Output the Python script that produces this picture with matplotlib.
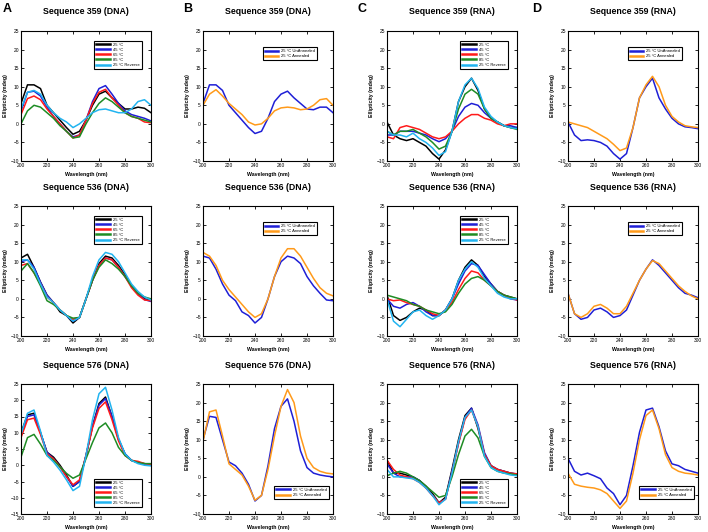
import matplotlib
matplotlib.use("Agg")
import matplotlib.pyplot as plt
import numpy as np

plt.rcParams['font.family'] = ['Liberation Sans', 'DejaVu Sans']

# wavelength grid (nm), every 5 nm
wl = np.arange(200, 301, 5)

temp_labels = ['25 \u00b0C', '45 \u00b0C', '65 \u00b0C', '85 \u00b0C', '25 \u00b0C Reverse']
anneal_labels = ['25 \u00b0C UnAnnealed', '25 \u00b0C Annealed']

# --- Sequence 359 ---
dna359_temp = [
    [5.5, 10.5, 10.5, 9.5, 5.0, 3.0, 1.0, -1.0, -2.8, -2.0, 1.0, 5.0, 8.0, 8.8, 7.0, 5.5, 4.0, 4.0, 4.5, 4.2, 3.0],
    [3.5, 8.5, 8.8, 7.5, 4.5, 2.0, 0.0, -2.0, -3.5, -3.0, 1.0, 6.0, 9.5, 10.3, 8.0, 5.5, 3.5, 2.5, 2.0, 1.5, 0.8],
    [2.5, 6.8, 7.5, 6.5, 4.0, 2.0, 0.0, -2.0, -3.8, -3.0, 1.0, 5.5, 8.5, 9.3, 7.0, 5.0, 3.0, 2.0, 1.5, 0.5, 0.3],
    [0.0, 3.5, 5.0, 4.5, 3.0, 1.5, -0.5, -2.0, -3.8, -3.5, 0.0, 3.0, 5.5, 7.0, 6.0, 4.5, 3.0, 2.0, 1.5, 1.0, 0.5],
    [4.0, 8.5, 9.0, 8.0, 5.0, 3.0, 1.5, 0.5, -1.0, 0.0, 1.5, 3.0, 3.8, 4.0, 3.5, 3.0, 3.0, 4.0, 6.0, 6.5, 5.0],
]
dna359_anneal = [
    [5.5, 10.5, 10.5, 9.0, 5.0, 3.0, 1.0, -1.0, -2.6, -2.0, 1.5, 6.0, 8.0, 8.8, 7.0, 5.5, 4.0, 3.8, 4.5, 4.5, 3.0],
    [5.0, 8.0, 9.2, 7.5, 5.5, 4.0, 2.5, 0.5, -0.3, 0.0, 1.5, 3.5, 4.3, 4.5, 4.3, 3.8, 4.0, 5.0, 6.5, 6.8, 5.0],
]
rna359_temp = [
    [0.5, -3.0, -4.0, -4.5, -4.0, -5.0, -6.0, -8.0, -9.5, -7.0, -2.0, 6.0, 10.0, 12.3, 9.0, 4.0, 1.5, 0.5, -0.5, -1.0, -1.0],
    [-3.0, -3.0, -2.0, -2.0, -2.0, -2.5, -3.0, -4.0, -4.8, -4.0, -2.0, 2.0, 4.5, 5.5, 5.0, 3.0, 1.5, 0.5, -0.5, -0.5, -1.0],
    [-3.5, -4.0, -1.0, -0.5, -1.0, -1.5, -2.5, -3.5, -4.0, -3.5, -2.0, 0.0, 1.5, 2.5, 2.5, 1.5, 1.0, 0.0, -0.5, 0.0, 0.0],
    [-2.0, -3.0, -2.0, -2.0, -1.5, -2.5, -3.5, -5.0, -6.8, -6.0, -2.0, 4.0, 8.0, 9.3, 8.0, 4.0, 1.5, 0.5, -0.5, -1.0, -1.5],
    [-2.0, -3.0, -3.0, -3.5, -2.5, -4.0, -5.0, -6.5, -8.5, -7.5, -2.0, 6.0, 10.5, 12.3, 9.5, 4.5, 2.0, 0.5, -0.5, -1.0, -1.3],
]
rna359_anneal = [
    [0.5, -3.0, -4.5, -4.3, -4.5, -5.0, -6.0, -8.0, -9.5, -8.0, -1.0, 7.0, 10.0, 12.3, 7.0, 4.0, 1.5, 0.0, -0.8, -1.0, -1.3],
    [0.5, 0.0, -0.5, -1.0, -2.0, -3.0, -4.0, -5.5, -7.2, -6.5, -1.0, 7.0, 10.5, 12.8, 10.0, 5.0, 2.0, 0.5, -0.5, -0.8, -1.0],
]

# --- Sequence 536 ---
dna536_temp = [
    [11.0, 12.0, 8.5, 4.5, 1.0, -1.0, -3.5, -4.5, -6.5, -5.0, 0.0, 5.0, 9.5, 11.5, 11.0, 9.0, 6.5, 3.5, 1.5, 0.0, -0.5],
    [10.0, 10.5, 8.5, 4.5, 1.0, -1.0, -3.0, -4.5, -6.0, -5.0, 0.0, 5.0, 9.0, 11.0, 10.5, 8.5, 6.0, 3.5, 1.5, -0.2, -0.7],
    [9.0, 9.5, 7.0, 4.0, 0.5, -1.0, -3.0, -4.5, -5.5, -5.0, 0.0, 5.0, 9.0, 11.0, 10.5, 8.5, 6.0, 3.0, 1.0, -0.3, -0.5],
    [7.5, 9.5, 7.0, 3.5, -0.5, -1.5, -3.0, -4.5, -5.2, -5.0, 0.0, 5.0, 8.5, 10.5, 9.5, 8.0, 6.0, 3.5, 1.5, 0.5, 0.0],
    [10.5, 10.5, 8.0, 4.0, 0.5, -1.0, -3.0, -4.5, -6.0, -5.0, 0.0, 6.0, 10.5, 12.5, 12.0, 10.0, 7.0, 4.0, 2.0, 0.5, -0.3],
]
dna536_anneal = [
    [11.5, 11.0, 8.0, 4.0, 1.0, -0.5, -3.5, -4.5, -6.5, -5.0, 0.0, 6.0, 10.0, 11.5, 11.0, 9.5, 6.0, 3.5, 1.5, -0.3, -0.5],
    [12.5, 11.5, 9.0, 5.0, 2.5, 0.5, -1.5, -3.5, -5.0, -4.0, 0.0, 6.0, 11.0, 13.5, 13.5, 11.5, 8.5, 5.5, 3.0, 1.5, 0.8],
]
rna536_temp = [
    [1.0, -4.5, -5.8, -5.0, -3.5, -2.5, -3.0, -4.5, -4.5, -3.0, 0.0, 5.0, 8.5, 10.5, 9.0, 6.0, 4.0, 2.0, 1.0, 0.5, 0.0],
    [0.0, -2.0, -2.5, -1.5, -1.0, -2.0, -3.5, -4.5, -4.5, -3.0, 0.0, 4.0, 7.5, 9.5, 9.0, 6.5, 4.0, 2.0, 1.0, 0.0, -0.3],
    [0.0, -0.5, -0.3, -1.0, -1.5, -2.0, -3.0, -4.0, -4.5, -3.0, -1.0, 2.5, 5.5, 7.5, 7.0, 5.0, 3.5, 2.0, 1.0, 0.2, -0.3],
    [1.0, 0.5, 0.0, -0.5, -1.5, -2.0, -3.0, -3.5, -4.0, -3.5, -1.5, 1.5, 4.0, 5.5, 6.0, 5.0, 3.5, 2.0, 1.0, 0.5, 0.0],
    [0.0, -6.0, -7.5, -5.5, -3.5, -3.0, -4.5, -5.5, -4.5, -3.0, 0.0, 5.0, 8.0, 10.0, 8.5, 5.5, 3.5, 1.5, 0.5, 0.0, 0.0],
]
rna536_anneal = [
    [1.5, -4.0, -5.5, -5.0, -3.0, -2.5, -3.5, -5.0, -4.5, -3.0, 1.0, 5.0, 8.0, 10.5, 9.0, 7.0, 5.0, 3.0, 1.5, 1.0, 0.3],
    [1.5, -4.0, -5.0, -4.0, -2.0, -1.5, -2.5, -4.0, -4.0, -2.0, 1.5, 5.0, 8.0, 10.3, 9.5, 7.5, 5.5, 3.5, 2.0, 0.8, 0.0],
]

# --- Sequence 576 ---
dna576_temp = [
    [10.0, 15.5, 16.0, 10.0, 4.0, 2.5, 0.0, -3.0, -6.5, -5.0, 3.0, 12.0, 19.0, 21.0, 15.0, 8.0, 3.5, 1.5, 0.8, 0.5, 0.0],
    [9.0, 15.0, 15.5, 10.0, 4.0, 2.0, -0.5, -3.5, -6.5, -5.0, 3.0, 12.0, 18.5, 20.5, 15.0, 8.0, 3.5, 1.5, 0.8, 0.3, 0.0],
    [8.5, 14.0, 14.5, 9.5, 3.5, 2.0, -0.5, -3.5, -6.0, -4.5, 3.0, 11.5, 17.5, 19.5, 14.0, 7.5, 3.0, 1.5, 1.2, 0.5, 0.3],
    [2.5, 8.5, 9.5, 6.5, 3.0, 1.5, -0.5, -2.5, -4.0, -3.0, 2.0, 7.0, 11.5, 13.0, 10.0, 5.5, 3.0, 1.5, 0.8, 0.5, 0.5],
    [9.5, 16.0, 17.0, 10.5, 3.0, 1.0, -1.5, -4.5, -7.8, -6.5, 3.0, 14.0, 22.0, 24.0, 17.0, 8.5, 3.5, 1.5, 0.5, 0.0, -0.2],
]
dna576_anneal = [
    [10.0, 16.3, 16.0, 10.0, 4.0, 3.0, 1.0, -2.0, -6.5, -5.0, 3.0, 13.0, 19.0, 21.0, 15.0, 7.0, 2.5, 1.0, 0.5, 0.2, 0.0],
    [9.5, 17.5, 18.0, 11.0, 3.5, 2.0, 0.5, -2.5, -6.3, -5.0, 2.0, 11.0, 19.0, 23.5, 20.0, 11.0, 5.0, 2.5, 1.5, 1.0, 0.8],
]
rna576_temp = [
    [4.5, 1.0, 1.0, 0.5, 0.0, -1.0, -2.5, -4.5, -7.0, -5.5, 2.0, 10.0, 16.5, 18.5, 13.0, 6.0, 3.0, 2.0, 1.5, 1.0, 0.7],
    [3.5, 1.0, 0.0, 0.0, 0.0, -1.0, -3.0, -5.0, -7.0, -6.0, 1.5, 9.0, 16.0, 18.5, 14.0, 6.5, 3.0, 2.0, 1.5, 1.0, 0.8],
    [4.5, 2.0, 0.5, 0.0, -0.5, -1.5, -3.0, -5.0, -7.0, -6.0, 1.0, 9.0, 15.5, 18.0, 13.5, 6.0, 3.0, 2.0, 1.5, 1.0, 0.8],
    [0.3, 1.0, 1.5, 1.0, 0.0, -1.0, -2.5, -4.0, -5.5, -5.0, 0.0, 6.0, 11.0, 12.8, 10.5, 5.5, 2.5, 1.5, 1.0, 0.8, 0.5],
    [2.0, 0.0, 0.0, -0.3, -0.5, -1.5, -3.0, -5.0, -7.5, -6.0, 1.0, 9.5, 16.0, 18.0, 13.5, 5.5, 2.5, 1.5, 1.0, 0.5, 0.3],
]
rna576_anneal = [
    [5.0, 1.5, 0.5, 1.0, 0.3, -0.5, -3.0, -4.5, -7.5, -5.0, 3.0, 12.0, 18.0, 18.5, 13.5, 7.0, 3.5, 3.0, 2.0, 1.5, 1.0],
    [1.0, -2.0, -2.5, -2.8, -3.0, -3.5, -4.5, -6.5, -8.5, -6.5, 1.0, 10.0, 16.5, 18.0, 13.0, 6.0, 2.5, 1.5, 1.0, 0.8, 0.5],
]

temp_colors = ['black', '#1f1fd6', '#ff1a1a', '#1e8c24', '#22b4f0']
anneal_colors = ['#1f1fd6', '#ff9a1a']

seqs = ['359', '536', '576']
grid = [
    [dna359_temp, dna359_anneal, rna359_temp, rna359_anneal],
    [dna536_temp, dna536_anneal, rna536_temp, rna536_anneal],
    [dna576_temp, dna576_anneal, rna576_temp, rna576_anneal],
]
kinds = ['DNA', 'DNA', 'RNA', 'RNA']

W, H = 708, 532
fig = plt.figure(figsize=(W / 100, H / 100), dpi=100)

col_lr = [(21, 151), (203, 333), (387, 517), (568, 698)]
row_tb = [(31, 161), (206, 336), (384, 514)]

leg_kw = dict(fontsize=3.0, handlelength=3.2, handletextpad=0.8, labelspacing=0.25,
              borderpad=0.5, borderaxespad=0, fancybox=False, framealpha=1,
              edgecolor='black')

for r in range(3):
    for c in range(4):
        l, rr = col_lr[c]
        t, b = row_tb[r]
        ax = fig.add_axes([l / W, 1 - b / H, (rr - l) / W, (b - t) / H])
        curves = grid[r][c]
        if len(curves) == 5:
            cols, labs = temp_colors, temp_labels
        else:
            cols, labs = anneal_colors, anneal_labels
        for y, col, lab in zip(curves, cols, labs):
            ax.plot(wl, y, color=col, lw=1.1, label=lab)

        ax.set_xlim(200, 300)
        if r == 2 and c == 0:
            ax.set_ylim(-15, 25)
        else:
            ax.set_ylim(-10, 25)
        ax.set_xticks(np.arange(200, 301, 20))
        ax.set_yticks(np.arange(ax.get_ylim()[0], 26, 5))
        ax.tick_params(direction='in', length=2, width=0.6, labelsize=3.5, pad=1.5,
                       top=True, right=True)
        for s in ax.spines.values():
            s.set_linewidth(0.8)
        ax.set_xlabel('Wavelength (nm)', fontsize=3.8, fontweight='bold', labelpad=3)
        ax.set_ylabel('Ellipticity (mdeg)', fontsize=3.8, fontweight='bold', labelpad=2)
        ax.text(0.5, 1 + 19 / 130, 'Sequence %s (%s)' % (seqs[r], kinds[c]),
                transform=ax.transAxes, ha='center', va='center',
                fontsize=6.3, fontweight='bold')

        if len(curves) == 5:
            if r == 2:
                leg = ax.legend(loc='lower right', bbox_to_anchor=(0.93, 0.055), **leg_kw)
            else:
                leg = ax.legend(loc='upper right', bbox_to_anchor=(0.93, 0.925), **leg_kw)
        else:
            if r == 2:
                leg = ax.legend(loc='lower right', bbox_to_anchor=(0.97, 0.115), **leg_kw)
            else:
                leg = ax.legend(loc='upper right', bbox_to_anchor=(0.88, 0.875), **leg_kw)
        for ln in leg.get_lines():
            ln.set_linewidth(1.8)
        leg.get_frame().set_linewidth(0.8)

for x, lab in zip([3, 183, 357, 532], ['A', 'B', 'C', 'D']):
    fig.text(x / W, 1 - 9 / H, lab, fontsize=9, fontweight='bold', ha='left', va='center')

fig.savefig('out.png', dpi=100)
